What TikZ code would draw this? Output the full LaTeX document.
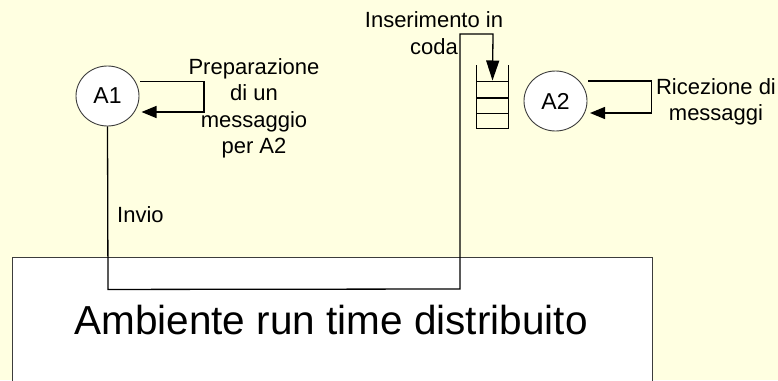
\documentclass[tikz,border=0pt]{standalone}
\usepackage{fontspec}
\setmainfont{Liberation Sans}
\usetikzlibrary{arrows.meta,calc,shapes.geometric}
\definecolor{paper}{RGB}{255,255,225}
\definecolor{frame}{RGB}{60,60,60}

\begin{document}
\begin{tikzpicture}[x=1pt,y=-1pt,
  agent/.style={ellipse,draw=frame,line width=0.9pt,fill=white,minimum width=63pt,minimum height=60pt,
                inner sep=0pt,font=\fontsize{23}{24}\selectfont},
  lbl/.style={align=center,inner sep=0pt,font=\fontsize{22}{26.5}\selectfont},
  wire/.style={draw=black,line width=1.3pt},
  tip/.style={-{Triangle[length=15pt,width=12pt]}},
  longtip/.style={-{Triangle[length=20pt,width=13pt]}},
  rung/.style={draw=black,line width=1.3pt}
]
\useasboundingbox (0,0) rectangle (778,380);
\fill[paper] (0,0) rectangle (778,380);
\clip (0,0) rectangle (778,380);

% run-time environment (runs past the lower edge)
\node[draw=frame,line width=0.8pt,fill=white,minimum width=640pt,minimum height=150pt,
      inner sep=0pt,anchor=north west] (rt) at (12,257) {};
\node[inner sep=0pt,anchor=base,font=\fontsize{40.5}{44}\selectfont] (rtlabel) at (331,334)
  {Ambiente run time distribuito};

% agents
\node[agent] (A1) at (107.5,96) {A1};
\node[agent] (A2) at (555.5,101) {A2};

% message queue of A2
\node[minimum width=31.5pt,minimum height=63pt,inner sep=0pt] (q) at (492.5,96.7) {};
\draw[rung] (q.north west) -- (q.south west) -- (q.south east) -- (q.north east);
\foreach \f in {0.265,0.52,0.765}
  \draw[rung] ($(q.north west)!\f!(q.south west)$) -- ($(q.north east)!\f!(q.south east)$);

% self loops
\draw[wire,tip] ($(A1.center)+(32.5,-14.5)$) -- ++(64,0) -- ++(0,30.5) -- ($(A1.center)+(34,16)$);
\draw[wire,tip] ($(A2.center)+(32.5,-20)$) -- ++(63.5,0) -- ++(0,32) -- ($(A2.center)+(34.5,12)$);

% send path through the environment into the queue
\coordinate (down) at ($(A1.south)+(0.5,163)$);
\coordinate (up) at (460,289);
\coordinate (over) at (460,34);
\coordinate (drop) at (493,34);
\draw[wire,longtip] (A1.south) -- (down) -- (up) -- (over) -- (drop) -- ($(q.north)+(0,15.5)$);

% labels
\node[lbl] (prep) at (254,108.5) {Preparazione\\di un\\messaggio\\per A2};
\node[lbl] (ins) at (434,33) {Inserimento in\\coda};
\node[lbl] (ric) at (716,102) {Ricezione di\\messaggi};
\node[inner sep=0pt,anchor=base west,font=\fontsize{22}{24}\selectfont] (invio) at (117,222) {Invio};
\end{tikzpicture}
\end{document}
